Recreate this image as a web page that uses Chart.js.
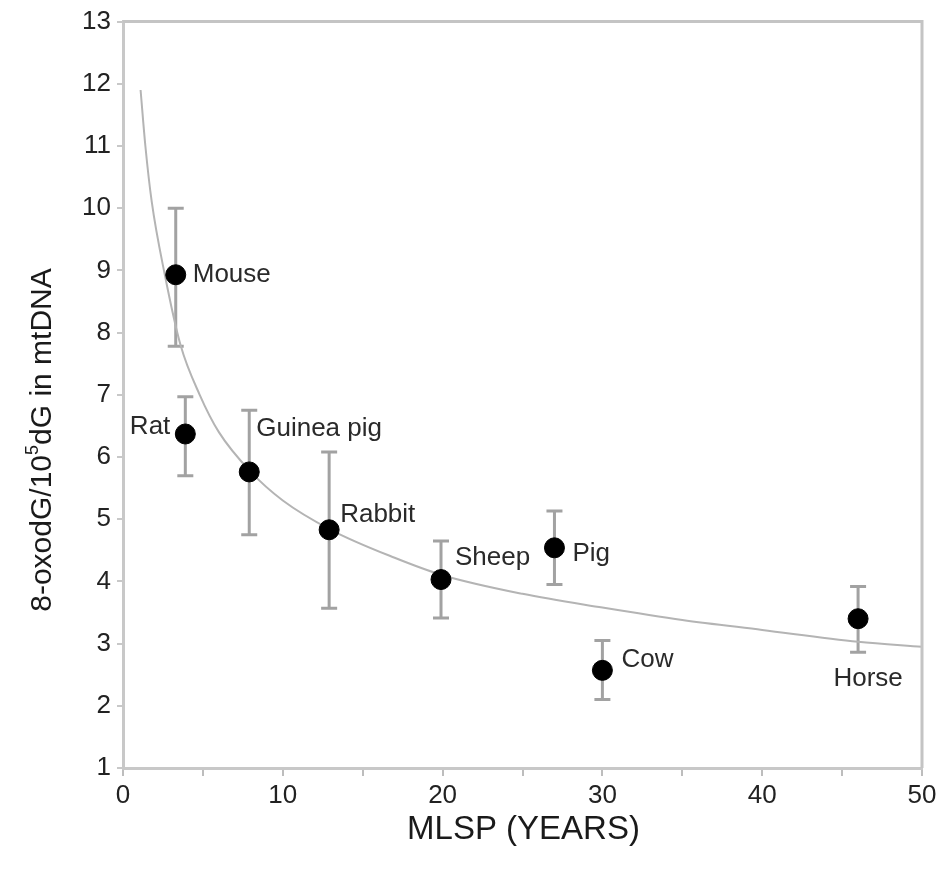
<!DOCTYPE html>
<html>
<head>
<meta charset="utf-8">
<script src="https://cdn.jsdelivr.net/npm/chart.js@4/dist/chart.umd.min.js"></script>
<style>
html,body{margin:0;padding:0;background:#fff;}
#cadre{width:945px;height:869px;}
</style>
</head>
<body>
<div id="cadre"><canvas id="chart"></canvas></div>
<script>
// Espèces et valeurs
const especes = ['Mouse', 'Rat', 'Guinea pig', 'Rabbit', 'Sheep', 'Pig', 'Cow', 'Horse'];
// MLSP en années
const mlsp = [3.3, 3.9, 7.9, 12.9, 19.9, 27.0, 30.0, 46.0];
// 8-oxodG / 10^5 dG dans l'ADNmt
const oxo = [8.93, 6.37, 5.76, 4.83, 4.03, 4.54, 2.57, 3.40];
// bornes des barres d'erreur
const oxoHaut = [10.0, 6.97, 6.75, 6.08, 4.65, 5.13, 3.05, 3.92];
const oxoBas = [7.78, 5.70, 4.75, 3.57, 3.41, 3.95, 2.10, 2.86];
// courbe ajustée, points relevés le long du tracé
const courbeX = [1.1, 1.4, 1.8, 2.6, 3.6, 4.8, 6, 8, 10, 13, 17, 20, 25, 30, 35, 40, 46, 50];
const courbeY = [11.9, 11.0, 10.1, 8.95, 7.8, 7.0, 6.4, 5.76, 5.3, 4.83, 4.38, 4.10, 3.80, 3.58, 3.38, 3.22, 3.03, 2.95];
// graduations
const etiquettesX = [0, 10, 20, 30, 40, 50];
const bornesY = [1, 13];

////////////

// décalage des noms par rapport au point (px) et alignement
const decalages = [[17, 0, 'left'], [-15, -7, 'right'], [7, -43, 'left'], [11, -15, 'left'],
                   [14, -22, 'left'], [18, 6, 'left'], [19, -11, 'left'], [10, 60, 'center']];
const police = '"Liberation Sans", Arial, sans-serif';

var points = mlsp.map(function(x, i){ return {x: x, y: oxo[i]}; });
var courbe = courbeX.map(function(x, i){ return {x: x, y: courbeY[i]}; });

const habillage = {
    id: 'habillage',
    beforeDatasetsDraw: function(chart){
        const c = chart.ctx, sx = chart.scales.x, sy = chart.scales.y;
        c.save();
        c.strokeStyle = '#a2a2a2';
        c.lineWidth = 3;
        for(var i=0; i<mlsp.length; i++){
            const px = sx.getPixelForValue(mlsp[i]);
            const h = sy.getPixelForValue(oxoHaut[i]);
            const b = sy.getPixelForValue(oxoBas[i]);
            c.beginPath();
            c.moveTo(px, h); c.lineTo(px, b);
            c.moveTo(px-8, h); c.lineTo(px+8, h);
            c.moveTo(px-8, b); c.lineTo(px+8, b);
            c.stroke();
        }
        c.restore();
    },
    afterDraw: function(chart){
        const c = chart.ctx, sx = chart.scales.x, sy = chart.scales.y, a = chart.chartArea;
        c.save();
        // cadre haut et droit
        c.strokeStyle = '#c4c4c4';
        c.lineWidth = 3;
        c.beginPath();
        c.moveTo(a.left, a.top); c.lineTo(a.right, a.top); c.lineTo(a.right, a.bottom);
        c.stroke();
        // noms des espèces
        c.fillStyle = '#2a2a2a';
        c.font = '26px ' + police;
        c.textBaseline = 'middle';
        for(var i=0; i<especes.length; i++){
            const d = decalages[i];
            c.textAlign = d[2];
            c.fillText(especes[i], sx.getPixelForValue(mlsp[i]) + d[0], sy.getPixelForValue(oxo[i]) + d[1]);
        }
        // titre axe x
        c.fillStyle = '#1a1a1a';
        c.textAlign = 'center';
        c.font = '33px ' + police;
        c.fillText('MLSP (YEARS)', (a.left + a.right)/2 + 1, 830);
        // titre axe y avec exposant
        const p1 = '8-oxodG/10', sup = '5', p2 = 'dG in mtDNA';
        const fN = '30px ' + police, fS = '18px ' + police;
        c.font = fN;
        const w1 = c.measureText(p1).width, w3 = c.measureText(p2).width;
        c.font = fS;
        const w2 = c.measureText(sup).width;
        c.translate(43, 440);
        c.rotate(-Math.PI/2);
        c.textAlign = 'left';
        var x = -(w1 + w2 + w3)/2;
        c.font = fN; c.fillText(p1, x, 0); x += w1;
        c.font = fS; c.fillText(sup, x, -10); x += w2;
        c.font = fN; c.fillText(p2, x, 0);
        c.restore();
    }
};

var ctx = document.getElementById('chart').getContext('2d');
var graph = new Chart(ctx, {
    type: 'scatter'
    , data: {
        datasets: [{
            label: 'Espèces',
            data: points,
            backgroundColor: '#000',
            borderColor: '#000',
            pointRadius: 10,
            showLine: false
        }, {
            label: 'Ajustement',
            data: courbe,
            showLine: true,
            pointRadius: 0,
            borderColor: '#b4b4b4',
            borderWidth: 2,
            cubicInterpolationMode: 'monotone'
        }]
    }
    , options: {
        responsive: true
        ,maintainAspectRatio: false
        ,animation: false
        ,layout: { padding: { top: 12, right: 23, left: 0, bottom: 0 } }
        ,plugins: { legend: { display: false }, tooltip: { enabled: false } }
        ,scales: {
            x: {
                type: 'linear',
                min: etiquettesX[0],
                max: etiquettesX[etiquettesX.length-1],
                afterFit: function(s){ s.height = 101; },
                grid: { drawOnChartArea: false, tickLength: 8, color: '#bdbdbd', lineWidth: 2 },
                border: { color: '#c8c8c8', width: 3 },
                ticks: {
                    stepSize: 5,
                    padding: 4,
                    color: '#222',
                    font: { family: police, size: 26 },
                    callback: function(v){ return etiquettesX.indexOf(v) >= 0 ? v : ''; }
                }
            },
            y: {
                min: bornesY[0],
                max: bornesY[1],
                afterFit: function(s){ s.width = 123; },
                grid: { drawOnChartArea: false, tickLength: 6, color: '#c8c8c8', lineWidth: 2 },
                border: { color: '#c8c8c8', width: 3 },
                ticks: {
                    stepSize: 1,
                    padding: 6,
                    color: '#222',
                    font: { family: police, size: 26 }
                }
            }
        }
    }
    , plugins: [habillage]
});
</script>
</body>
</html>
